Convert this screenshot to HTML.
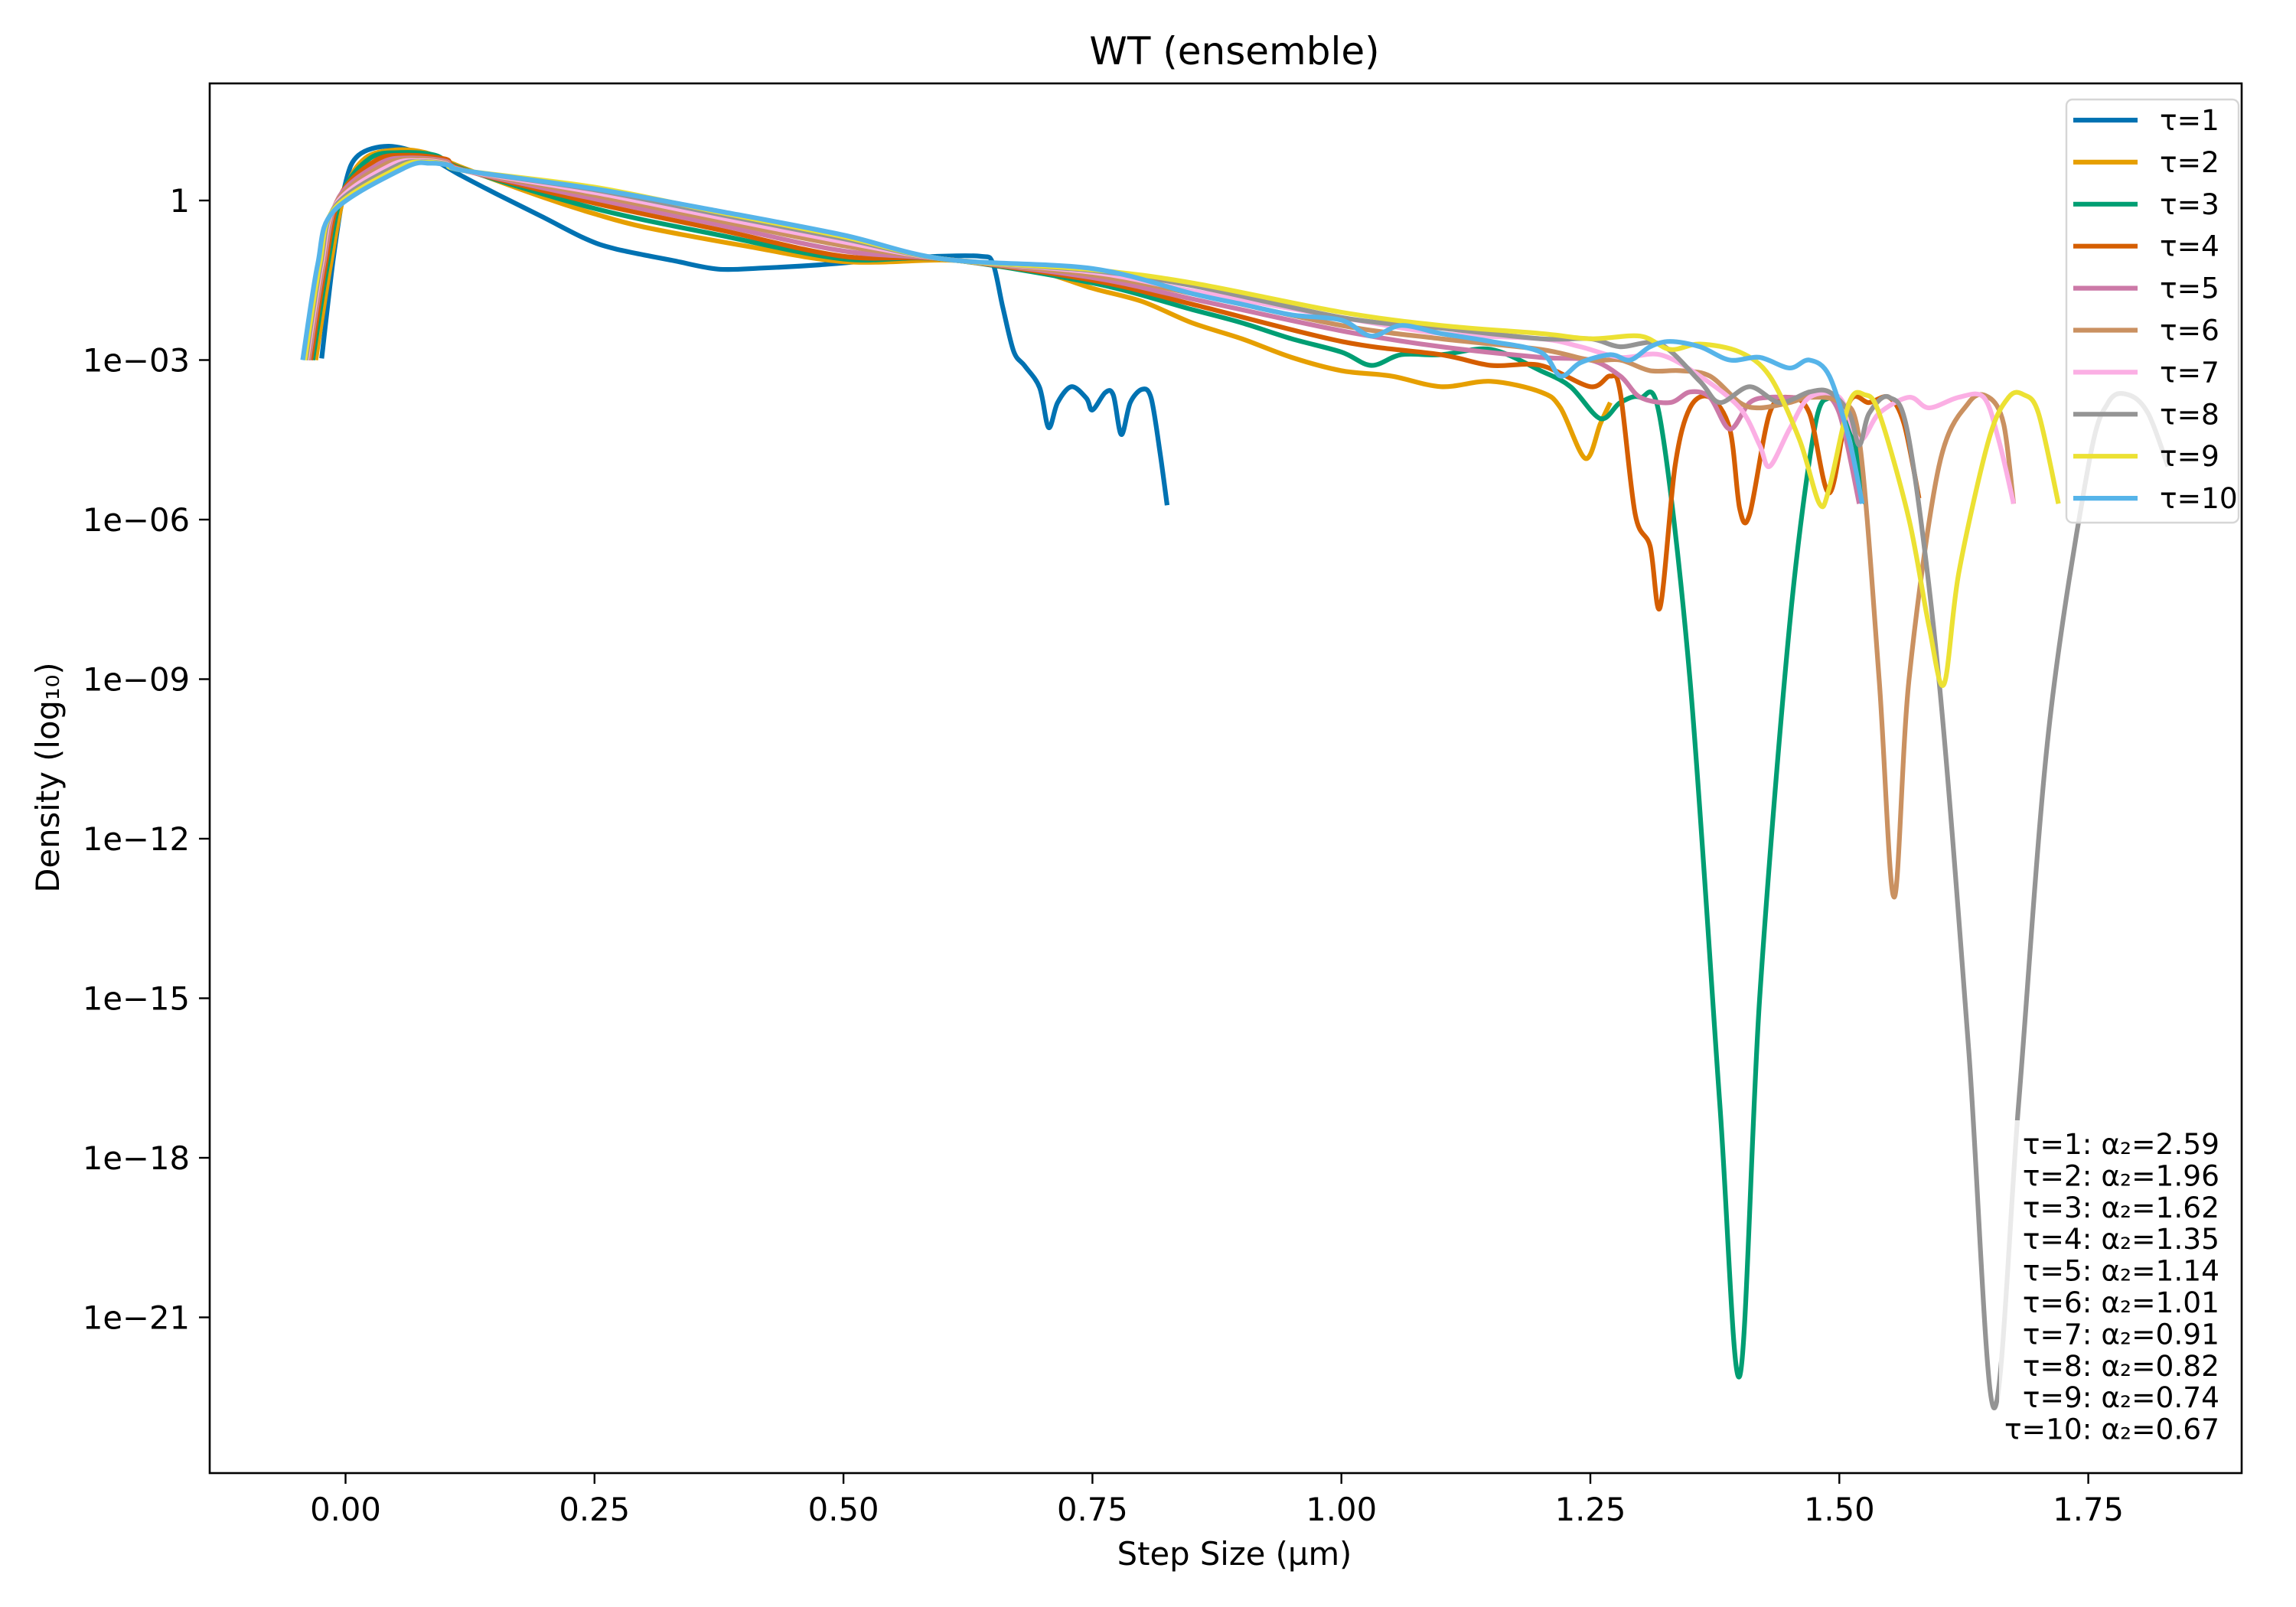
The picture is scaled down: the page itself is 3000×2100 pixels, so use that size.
<!DOCTYPE html>
<html><head><meta charset="utf-8"><style>
html,body{margin:0;padding:0;background:#fff}
svg{display:block}
text{font-family:"DejaVu Sans","Liberation Sans",sans-serif;fill:#000}
</style></head><body>
<svg id="chart" width="3000" height="2100" viewBox="0 0 3000 2100" xmlns="http://www.w3.org/2000/svg">
<rect width="3000" height="2100" fill="#fff"/>
<g id="plot"></g>
</svg>
<script>
const xTicks=[0,0.25,0.5,0.75,1.0,1.25,1.5,1.75];
const xTickLabels=["0.00","0.25","0.50","0.75","1.00","1.25","1.50","1.75"];
const yTicks=[0,-3,-6,-9,-12,-15,-18,-21];
const yTickLabels=["1","1e\u221203","1e\u221206","1e\u221209","1e\u221212","1e\u221215","1e\u221218","1e\u221221"];
const seriesNames=["τ=1","τ=2","τ=3","τ=4","τ=5","τ=6","τ=7","τ=8","τ=9","τ=10"];
const alphaLabels=["τ=1: α₂=2.59","τ=2: α₂=1.96","τ=3: α₂=1.62","τ=4: α₂=1.35","τ=5: α₂=1.14","τ=6: α₂=1.01","τ=7: α₂=0.91","τ=8: α₂=0.82","τ=9: α₂=0.74","τ=10: α₂=0.67"];
const colors=["#0072B2","#E69F00","#009E73","#D55E00","#CC79A7","#CA9161","#FBAFE4","#949494","#ECE133","#56B4E9"];
// [x (µm), log10 density]
const s1=[[-0.024,-2.97],[-0.012,-1.05],[0,0.33],[0.013,0.85],[0.043,1.02],[0.079,0.85],[0.116,0.47],[0.153,0.11],[0.197,-0.3],[0.241,-0.72],[0.271,-0.91],[0.329,-1.13],[0.374,-1.29],[0.418,-1.27],[0.476,-1.21],[0.535,-1.12],[0.594,-1.05],[0.638,-1.05],[0.65,-1.18],[0.66,-2.01],[0.671,-2.84],[0.682,-3.11],[0.697,-3.52],[0.706,-4.27],[0.715,-3.8],[0.729,-3.5],[0.744,-3.72],[0.75,-3.94],[0.763,-3.61],[0.771,-3.66],[0.779,-4.4],[0.788,-3.8],[0.8,-3.55],[0.809,-3.72],[0.818,-4.76],[0.825,-5.73]];
const s2=[[-0.030,-3],[-0.015,-1.2],[0,0.2],[0.02,0.8],[0.05,0.95],[0.08,0.9],[0.12,0.6],[0.2,0.05],[0.25,-0.25],[0.3,-0.5],[0.4,-0.85],[0.5,-1.15],[0.6,-1.12],[0.65,-1.2],[0.7,-1.35],[0.75,-1.65],[0.8,-1.9],[0.85,-2.3],[0.9,-2.6],[0.95,-2.95],[1.0,-3.2],[1.05,-3.3],[1.1,-3.5],[1.15,-3.4],[1.2,-3.6],[1.22,-3.9],[1.245,-4.85],[1.26,-4.2],[1.27,-3.8]];
const s3=[[-0.033,-3],[-0.018,-1.2],[-0.003,0.15],[0.025,0.8],[0.055,0.9],[0.09,0.85],[0.12,0.58],[0.25,-0.15],[0.375,-0.65],[0.5,-1.1],[0.6,-1.1],[0.75,-1.55],[0.85,-2.05],[0.9,-2.3],[0.95,-2.6],[1.0,-2.85],[1.03,-3.1],[1.06,-2.9],[1.1,-2.9],[1.15,-2.8],[1.2,-3.2],[1.23,-3.5],[1.26,-4.1],[1.28,-3.8],[1.30,-3.7],[1.32,-4.1],[1.35,-9],[1.38,-17],[1.40,-22.1],[1.42,-15],[1.45,-8],[1.475,-4.3],[1.49,-3.7],[1.50,-3.75],[1.515,-4.5],[1.526,-5.7]];
const s4=[[-0.035,-3],[-0.02,-1.2],[-0.005,0.1],[0.03,0.75],[0.06,0.85],[0.1,0.78],[0.12,0.57],[0.25,-0.05],[0.375,-0.55],[0.5,-1.05],[0.6,-1.1],[0.75,-1.5],[0.85,-1.95],[1.0,-2.65],[1.1,-2.9],[1.15,-3.1],[1.2,-3.1],[1.25,-3.5],[1.27,-3.3],[1.28,-3.6],[1.295,-5.9],[1.31,-6.5],[1.32,-7.65],[1.335,-5],[1.35,-3.9],[1.37,-3.7],[1.39,-4.3],[1.40,-5.8],[1.41,-5.9],[1.43,-4.0],[1.45,-3.7],[1.47,-4.0],[1.49,-5.5],[1.51,-3.8],[1.53,-3.8],[1.55,-3.7],[1.565,-4.2],[1.58,-5.6]];
const s5=[[-0.037,-3],[-0.022,-1.2],[-0.007,0.05],[0.035,0.7],[0.065,0.8],[0.1,0.74],[0.12,0.56],[0.25,0.03],[0.375,-0.46],[0.5,-0.95],[0.6,-1.1],[0.75,-1.45],[0.85,-1.85],[1.0,-2.45],[1.1,-2.75],[1.2,-2.95],[1.25,-3.0],[1.28,-3.3],[1.30,-3.7],[1.33,-3.8],[1.35,-3.6],[1.37,-3.7],[1.39,-4.3],[1.41,-3.8],[1.43,-3.7],[1.46,-3.7],[1.48,-3.6],[1.50,-4.0],[1.52,-5.7]];
const s6=[[-0.038,-3],[-0.023,-1.2],[-0.008,0.0],[0.04,0.68],[0.07,0.78],[0.1,0.72],[0.12,0.56],[0.25,0.1],[0.375,-0.38],[0.5,-0.85],[0.6,-1.1],[0.75,-1.4],[0.85,-1.75],[1.0,-2.35],[1.1,-2.6],[1.2,-2.8],[1.25,-3.0],[1.28,-3.0],[1.31,-3.2],[1.34,-3.2],[1.37,-3.3],[1.40,-3.8],[1.42,-3.9],[1.45,-3.8],[1.47,-3.7],[1.50,-3.8],[1.52,-4.5],[1.54,-9],[1.555,-13.1],[1.57,-9],[1.60,-5],[1.63,-3.8],[1.65,-3.7],[1.665,-4.2],[1.675,-5.7]];
const s7=[[-0.039,-3],[-0.024,-1.2],[-0.009,-0.05],[0.045,0.66],[0.075,0.75],[0.1,0.7],[0.12,0.56],[0.25,0.15],[0.375,-0.32],[0.5,-0.78],[0.6,-1.1],[0.75,-1.35],[0.85,-1.7],[1.0,-2.2],[1.1,-2.5],[1.2,-2.6],[1.24,-2.75],[1.28,-2.95],[1.32,-2.9],[1.36,-3.3],[1.40,-3.9],[1.42,-4.6],[1.43,-5.0],[1.45,-4.3],[1.47,-3.7],[1.50,-3.7],[1.52,-4.5],[1.54,-4.0],[1.57,-3.7],[1.59,-3.9],[1.62,-3.7],[1.645,-3.7],[1.66,-4.5],[1.675,-5.7]];
const s8=[[-0.040,-3],[-0.025,-1.2],[-0.01,-0.1],[0.05,0.64],[0.078,0.73],[0.1,0.69],[0.12,0.56],[0.25,0.2],[0.375,-0.26],[0.5,-0.72],[0.6,-1.1],[0.75,-1.32],[0.85,-1.6],[1.0,-2.2],[1.1,-2.4],[1.2,-2.6],[1.25,-2.6],[1.28,-2.75],[1.32,-2.7],[1.36,-3.4],[1.38,-3.8],[1.41,-3.5],[1.44,-3.8],[1.47,-3.6],[1.49,-3.6],[1.51,-4.0],[1.52,-4.6],[1.53,-4.0],[1.55,-3.7],[1.57,-4.5],[1.60,-9],[1.63,-16],[1.655,-22.7],[1.68,-17],[1.71,-10],[1.75,-5],[1.77,-3.8],[1.79,-3.65],[1.81,-4.0],[1.83,-5.0]];
const s9=[[-0.041,-3],[-0.026,-1.2],[-0.011,-0.15],[0.055,0.63],[0.08,0.72],[0.1,0.68],[0.12,0.56],[0.25,0.25],[0.375,-0.22],[0.5,-0.68],[0.6,-1.1],[0.75,-1.3],[0.85,-1.55],[1.0,-2.1],[1.1,-2.35],[1.2,-2.5],[1.25,-2.6],[1.30,-2.55],[1.33,-2.8],[1.36,-2.7],[1.40,-2.85],[1.43,-3.3],[1.46,-4.5],[1.48,-5.7],[1.49,-5.4],[1.51,-3.8],[1.525,-3.65],[1.54,-4.0],[1.57,-6],[1.59,-8],[1.605,-9.1],[1.62,-7],[1.65,-4.5],[1.67,-3.7],[1.685,-3.65],[1.70,-4.0],[1.72,-5.7]];
const s10=[[-0.043,-3],[-0.028,-1.2],[-0.012,-0.2],[0.06,0.62],[0.085,0.7],[0.105,0.66],[0.12,0.56],[0.25,0.22],[0.375,-0.2],[0.5,-0.65],[0.6,-1.1],[0.75,-1.28],[0.85,-1.75],[0.9,-1.95],[0.95,-2.15],[1.0,-2.25],[1.03,-2.55],[1.06,-2.35],[1.1,-2.5],[1.15,-2.65],[1.20,-2.85],[1.22,-3.3],[1.24,-3.05],[1.27,-2.9],[1.29,-3.0],[1.31,-2.75],[1.33,-2.65],[1.36,-2.75],[1.39,-3.0],[1.42,-2.95],[1.45,-3.15],[1.47,-3.0],[1.49,-3.3],[1.51,-4.5],[1.523,-5.7]];
const allSeries=[s1,s2,s3,s4,s5,s6,s7,s8,s9,s10];

const L=274,R=2929,T=109,B=1925;
const xScale=v=>451.5+v*1301.2;
const yScale=v=>262-v*69.5;
const NS="http://www.w3.org/2000/svg";
const plot=document.getElementById('plot');
function mk(tag,attrs,parent){const e=document.createElementNS(NS,tag);for(const k in attrs)e.setAttribute(k,attrs[k]);(parent||plot).appendChild(e);return e;}
function smoothPath(pts){
  let d='M'+pts[0][0].toFixed(1)+','+pts[0][1].toFixed(1);
  for(let i=0;i<pts.length-1;i++){
    const p0=pts[i-1]||pts[i],p1=pts[i],p2=pts[i+1],p3=pts[i+2]||p2;
    const t=0.16;
    const c1=[p1[0]+(p2[0]-p0[0])*t,p1[1]+(p2[1]-p0[1])*t];
    const c2=[p2[0]-(p3[0]-p1[0])*t,p2[1]-(p3[1]-p1[1])*t];
    d+=' C'+c1[0].toFixed(1)+','+c1[1].toFixed(1)+' '+c2[0].toFixed(1)+','+c2[1].toFixed(1)+' '+p2[0].toFixed(1)+','+p2[1].toFixed(1);
  }
  return d;
}

const defs=mk('defs',{});
const cp=mk('clipPath',{id:'clip'},defs);
mk('rect',{x:L,y:T,width:R-L,height:B-T},cp);

const lines=mk('g',{'clip-path':'url(#clip)'});


allSeries.forEach((s,i)=>{
  const pts=s.map(d=>[xScale(d[0]),yScale(d[1])]);
  const p=mk('path',{d:smoothPath(pts),fill:'none',stroke:colors[i],'stroke-width':6.2,'stroke-linejoin':'round','stroke-linecap':'butt'},lines);
  
  
});

const ab=mk('rect',{x:2612,y:1464,width:306,height:430,fill:'#fff','fill-opacity':0.8});


alphaLabels.forEach((t,i)=>{
  const e=mk('text',{x:2900,y:1508+i*41.4,'text-anchor':'end','font-size':37.5});
  e.textContent=t;
  
  
});

const fr=mk('rect',{x:L,y:T,width:R-L,height:B-T,fill:'none',stroke:'#000','stroke-width':2.6});



xTicks.forEach((v,i)=>{
  const x=xScale(v);
  const t=mk('line',{x1:x,x2:x,y1:B,y2:B+14,stroke:'#000','stroke-width':2.4});
  
  
  const e=mk('text',{x:x,y:1987,'text-anchor':'middle','font-size':41.7});
  e.textContent=xTickLabels[i];
  
  
});
yTicks.forEach((v,i)=>{
  const y=yScale(v);
  const t=mk('line',{x1:L-14,x2:L,y1:y,y2:y,stroke:'#000','stroke-width':2.4});
  
  
  const e=mk('text',{x:248,y:y+15,'text-anchor':'end','font-size':41.7});
  e.textContent=yTickLabels[i];
  
  
});

const title=mk('text',{x:1613,y:84,'text-anchor':'middle','font-size':50});
title.textContent='WT (ensemble)';


const xl=mk('text',{x:1613,y:2045,'text-anchor':'middle','font-size':41.7});
xl.textContent='Step Size (µm)';


const yl=mk('text',{x:77,y:1016,'text-anchor':'middle','font-size':41.7,transform:'rotate(-90 77 1016)'});
yl.textContent='Density (log₁₀)';



const lg=mk('g',{});


mk('rect',{x:2700,y:130,width:225,height:553,rx:8,fill:'#fff','fill-opacity':0.8,stroke:'#d6d6d6','stroke-width':2.4},lg);
seriesNames.forEach((n,i)=>{
  const y=157+i*54.9;
  const ln=mk('line',{x1:2709,x2:2793,y1:y,y2:y,stroke:colors[i],'stroke-width':6.2},lg);
  
  
  const e=mk('text',{x:2822,y:y+13,'font-size':37.5},lg);
  e.textContent=n;
  
  
});
</script>
</body></html>
